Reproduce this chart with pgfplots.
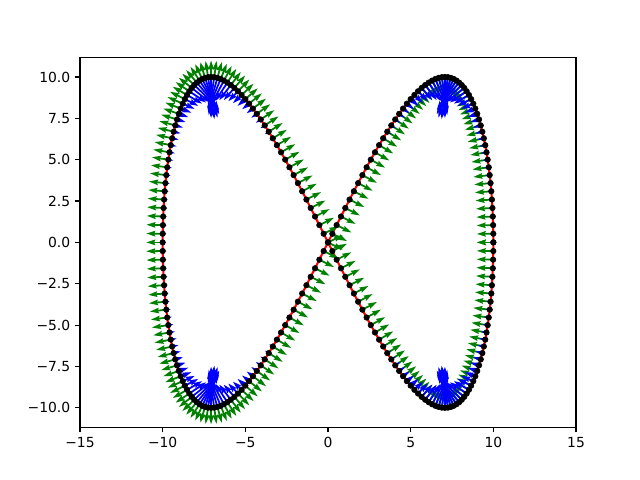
\documentclass[border=0pt]{standalone}
\usepackage{fontspec}
\setmainfont{DejaVu Sans}
\usepackage{pgfplots}
\pgfplotsset{compat=1.18}
\usepackage{pgfplotstable}
\usetikzlibrary{arrows.meta}
\definecolor{mplgreen}{HTML}{008000}
\pgfplotstableread{
x y gx gy bx by s
10.000 0.000 -1.000 0.000 -0.220 0.000 0.41
9.997 0.523 -1.000 -0.013 -0.221 -0.003 0.41
9.986 1.045 -1.000 -0.026 -0.223 -0.006 0.41
9.969 1.564 -0.999 -0.040 -0.227 -0.009 0.42
9.945 2.079 -0.999 -0.053 -0.233 -0.012 0.43
9.914 2.588 -0.998 -0.067 -0.240 -0.016 0.45
9.877 3.090 -0.997 -0.082 -0.250 -0.021 0.46
9.833 3.584 -0.995 -0.097 -0.261 -0.025 0.49
9.781 4.067 -0.994 -0.113 -0.275 -0.031 0.51
9.724 4.540 -0.991 -0.130 -0.291 -0.038 0.54
9.659 5.000 -0.989 -0.148 -0.311 -0.046 0.58
9.588 5.446 -0.986 -0.167 -0.334 -0.057 0.63
9.511 5.878 -0.982 -0.188 -0.361 -0.069 0.68
9.426 6.293 -0.978 -0.210 -0.392 -0.084 0.74
9.336 6.691 -0.972 -0.234 -0.429 -0.104 0.82
9.239 7.071 -0.965 -0.261 -0.473 -0.128 0.91
9.135 7.431 -0.957 -0.291 -0.523 -0.159 1
9.026 7.771 -0.946 -0.324 -0.582 -0.199 1
8.910 8.090 -0.933 -0.360 -0.650 -0.251 1
8.788 8.387 -0.916 -0.401 -0.729 -0.319 1
8.660 8.660 -0.894 -0.447 -0.818 -0.409 1
8.526 8.910 -0.867 -0.499 -0.916 -0.527 1
8.387 9.135 -0.831 -0.556 -1.020 -0.683 1
8.241 9.336 -0.785 -0.620 -1.119 -0.885 1
8.090 9.511 -0.725 -0.689 -1.199 -1.141 1
7.934 9.659 -0.648 -0.762 -1.233 -1.450 1
7.771 9.781 -0.551 -0.834 -1.188 -1.797 1
7.604 9.877 -0.434 -0.901 -1.030 -2.139 1
7.431 9.945 -0.298 -0.955 -0.752 -2.408 1
7.254 9.986 -0.150 -0.989 -0.386 -2.535 1
7.071 10.000 0.000 -1.000 0.000 -2.489 1
6.884 9.986 0.143 -0.990 0.331 -2.291 1
6.691 9.945 0.271 -0.963 0.563 -2.002 1
6.494 9.877 0.381 -0.925 0.694 -1.686 1
6.293 9.781 0.472 -0.882 0.743 -1.388 1
6.088 9.659 0.546 -0.838 0.737 -1.129 1
5.878 9.511 0.607 -0.795 0.700 -0.916 1
5.664 9.336 0.656 -0.755 0.647 -0.744 1
5.446 9.135 0.696 -0.718 0.588 -0.607 1
5.225 8.910 0.729 -0.685 0.530 -0.498 1
5.000 8.660 0.756 -0.655 0.475 -0.412 1
4.772 8.387 0.778 -0.628 0.425 -0.343 1
4.540 8.090 0.797 -0.604 0.379 -0.287 0.88
4.305 7.771 0.813 -0.583 0.338 -0.242 0.77
4.067 7.431 0.826 -0.564 0.301 -0.205 0.67
3.827 7.071 0.837 -0.547 0.268 -0.175 0.59
3.584 6.691 0.847 -0.532 0.238 -0.149 0.52
3.338 6.293 0.855 -0.519 0.211 -0.128 0.46
3.090 5.878 0.862 -0.507 0.187 -0.110 0.40
2.840 5.446 0.868 -0.496 0.165 -0.094 0.35
2.588 5.000 0.873 -0.487 0.145 -0.081 0.31
2.334 4.540 0.878 -0.479 0.127 -0.069 0.27
2.079 4.067 0.882 -0.472 0.109 -0.059 0.23
1.822 3.584 0.885 -0.466 0.094 -0.049 0.20
1.564 3.090 0.887 -0.461 0.079 -0.041 0.16
1.305 2.588 0.890 -0.457 0.064 -0.033 0.13
1.045 2.079 0.891 -0.453 0.051 -0.026 0.11
0.785 1.564 0.893 -0.451 0.038 -0.019 0.08
0.523 1.045 0.894 -0.449 0.025 -0.013 0.05
0.262 0.523 0.894 -0.448 0.012 -0.006 0.03
0.000 0.000 0.894 -0.447 0.001 -0.001 0.02
-0.262 -0.523 0.894 -0.448 -0.012 0.006 0.03
-0.523 -1.045 0.894 -0.449 -0.025 0.013 0.05
-0.785 -1.564 0.893 -0.451 -0.038 0.019 0.08
-1.045 -2.079 0.891 -0.453 -0.051 0.026 0.11
-1.305 -2.588 0.890 -0.457 -0.064 0.033 0.13
-1.564 -3.090 0.887 -0.461 -0.079 0.041 0.16
-1.822 -3.584 0.885 -0.466 -0.094 0.049 0.20
-2.079 -4.067 0.882 -0.472 -0.109 0.059 0.23
-2.334 -4.540 0.878 -0.479 -0.127 0.069 0.27
-2.588 -5.000 0.873 -0.487 -0.145 0.081 0.31
-2.840 -5.446 0.868 -0.496 -0.165 0.094 0.35
-3.090 -5.878 0.862 -0.507 -0.187 0.110 0.40
-3.338 -6.293 0.855 -0.519 -0.211 0.128 0.46
-3.584 -6.691 0.847 -0.532 -0.238 0.149 0.52
-3.827 -7.071 0.837 -0.547 -0.268 0.175 0.59
-4.067 -7.431 0.826 -0.564 -0.301 0.205 0.67
-4.305 -7.771 0.813 -0.583 -0.338 0.242 0.77
-4.540 -8.090 0.797 -0.604 -0.379 0.287 0.88
-4.772 -8.387 0.778 -0.628 -0.425 0.343 1
-5.000 -8.660 0.756 -0.655 -0.475 0.412 1
-5.225 -8.910 0.729 -0.685 -0.530 0.498 1
-5.446 -9.135 0.696 -0.718 -0.588 0.607 1
-5.664 -9.336 0.656 -0.755 -0.647 0.744 1
-5.878 -9.511 0.607 -0.795 -0.700 0.916 1
-6.088 -9.659 0.546 -0.838 -0.737 1.129 1
-6.293 -9.781 0.472 -0.882 -0.743 1.388 1
-6.494 -9.877 0.381 -0.925 -0.694 1.686 1
-6.691 -9.945 0.271 -0.963 -0.563 2.002 1
-6.884 -9.986 0.143 -0.990 -0.331 2.291 1
-7.071 -10.000 0.000 -1.000 0.000 2.489 1
-7.254 -9.986 -0.150 -0.989 0.386 2.535 1
-7.431 -9.945 -0.298 -0.955 0.752 2.408 1
-7.604 -9.877 -0.434 -0.901 1.030 2.139 1
-7.771 -9.781 -0.551 -0.834 1.188 1.797 1
-7.934 -9.659 -0.648 -0.762 1.233 1.450 1
-8.090 -9.511 -0.725 -0.689 1.199 1.141 1
-8.241 -9.336 -0.785 -0.620 1.119 0.885 1
-8.387 -9.135 -0.831 -0.556 1.020 0.683 1
-8.526 -8.910 -0.867 -0.499 0.916 0.527 1
-8.660 -8.660 -0.894 -0.447 0.818 0.409 1
-8.788 -8.387 -0.916 -0.401 0.729 0.319 1
-8.910 -8.090 -0.933 -0.360 0.650 0.251 1
-9.026 -7.771 -0.946 -0.324 0.582 0.199 1
-9.135 -7.431 -0.957 -0.291 0.523 0.159 1
-9.239 -7.071 -0.965 -0.261 0.473 0.128 0.91
-9.336 -6.691 -0.972 -0.234 0.429 0.104 0.82
-9.426 -6.293 -0.978 -0.210 0.392 0.084 0.74
-9.511 -5.878 -0.982 -0.188 0.361 0.069 0.68
-9.588 -5.446 -0.986 -0.167 0.334 0.057 0.63
-9.659 -5.000 -0.989 -0.148 0.311 0.046 0.58
-9.724 -4.540 -0.991 -0.130 0.291 0.038 0.54
-9.781 -4.067 -0.994 -0.113 0.275 0.031 0.51
-9.833 -3.584 -0.995 -0.097 0.261 0.025 0.49
-9.877 -3.090 -0.997 -0.082 0.250 0.021 0.46
-9.914 -2.588 -0.998 -0.067 0.240 0.016 0.45
-9.945 -2.079 -0.999 -0.053 0.233 0.012 0.43
-9.969 -1.564 -0.999 -0.040 0.227 0.009 0.42
-9.986 -1.045 -1.000 -0.026 0.223 0.006 0.41
-9.997 -0.523 -1.000 -0.013 0.221 0.003 0.41
-10.000 0.000 -1.000 0.000 0.220 0.000 0.41
-9.997 0.523 -1.000 0.013 0.221 -0.003 0.41
-9.986 1.045 -1.000 0.026 0.223 -0.006 0.41
-9.969 1.564 -0.999 0.040 0.227 -0.009 0.42
-9.945 2.079 -0.999 0.053 0.233 -0.012 0.43
-9.914 2.588 -0.998 0.067 0.240 -0.016 0.45
-9.877 3.090 -0.997 0.082 0.250 -0.021 0.46
-9.833 3.584 -0.995 0.097 0.261 -0.025 0.49
-9.781 4.067 -0.994 0.113 0.275 -0.031 0.51
-9.724 4.540 -0.991 0.130 0.291 -0.038 0.54
-9.659 5.000 -0.989 0.148 0.311 -0.046 0.58
-9.588 5.446 -0.986 0.167 0.334 -0.057 0.63
-9.511 5.878 -0.982 0.188 0.361 -0.069 0.68
-9.426 6.293 -0.978 0.210 0.392 -0.084 0.74
-9.336 6.691 -0.972 0.234 0.429 -0.104 0.82
-9.239 7.071 -0.965 0.261 0.473 -0.128 0.91
-9.135 7.431 -0.957 0.291 0.523 -0.159 1
-9.026 7.771 -0.946 0.324 0.582 -0.199 1
-8.910 8.090 -0.933 0.360 0.650 -0.251 1
-8.788 8.387 -0.916 0.401 0.729 -0.319 1
-8.660 8.660 -0.894 0.447 0.818 -0.409 1
-8.526 8.910 -0.867 0.499 0.916 -0.527 1
-8.387 9.135 -0.831 0.556 1.020 -0.683 1
-8.241 9.336 -0.785 0.620 1.119 -0.885 1
-8.090 9.511 -0.725 0.689 1.199 -1.141 1
-7.934 9.659 -0.648 0.762 1.233 -1.450 1
-7.771 9.781 -0.551 0.834 1.188 -1.797 1
-7.604 9.877 -0.434 0.901 1.030 -2.139 1
-7.431 9.945 -0.298 0.955 0.752 -2.408 1
-7.254 9.986 -0.150 0.989 0.386 -2.535 1
-7.071 10.000 0.000 1.000 0.000 -2.489 1
-6.884 9.986 0.143 0.990 -0.331 -2.291 1
-6.691 9.945 0.271 0.963 -0.563 -2.002 1
-6.494 9.877 0.381 0.925 -0.694 -1.686 1
-6.293 9.781 0.472 0.882 -0.743 -1.388 1
-6.088 9.659 0.546 0.838 -0.737 -1.129 1
-5.878 9.511 0.607 0.795 -0.700 -0.916 1
-5.664 9.336 0.656 0.755 -0.647 -0.744 1
-5.446 9.135 0.696 0.718 -0.588 -0.607 1
-5.225 8.910 0.729 0.685 -0.530 -0.498 1
-5.000 8.660 0.756 0.655 -0.475 -0.412 1
-4.772 8.387 0.778 0.628 -0.425 -0.343 1
-4.540 8.090 0.797 0.604 -0.379 -0.287 0.88
-4.305 7.771 0.813 0.583 -0.338 -0.242 0.77
-4.067 7.431 0.826 0.564 -0.301 -0.205 0.67
-3.827 7.071 0.837 0.547 -0.268 -0.175 0.59
-3.584 6.691 0.847 0.532 -0.238 -0.149 0.52
-3.338 6.293 0.855 0.519 -0.211 -0.128 0.46
-3.090 5.878 0.862 0.507 -0.187 -0.110 0.40
-2.840 5.446 0.868 0.496 -0.165 -0.094 0.35
-2.588 5.000 0.873 0.487 -0.145 -0.081 0.31
-2.334 4.540 0.878 0.479 -0.127 -0.069 0.27
-2.079 4.067 0.882 0.472 -0.109 -0.059 0.23
-1.822 3.584 0.885 0.466 -0.094 -0.049 0.20
-1.564 3.090 0.887 0.461 -0.079 -0.041 0.16
-1.305 2.588 0.890 0.457 -0.064 -0.033 0.13
-1.045 2.079 0.891 0.453 -0.051 -0.026 0.11
-0.785 1.564 0.893 0.451 -0.038 -0.019 0.08
-0.523 1.045 0.894 0.449 -0.025 -0.013 0.05
-0.262 0.523 0.894 0.448 -0.012 -0.006 0.03
0.000 0.000 0.894 0.447 -0.001 -0.001 0.02
0.262 -0.523 0.894 0.448 0.012 0.006 0.03
0.523 -1.045 0.894 0.449 0.025 0.013 0.05
0.785 -1.564 0.893 0.451 0.038 0.019 0.08
1.045 -2.079 0.891 0.453 0.051 0.026 0.11
1.305 -2.588 0.890 0.457 0.064 0.033 0.13
1.564 -3.090 0.887 0.461 0.079 0.041 0.16
1.822 -3.584 0.885 0.466 0.094 0.049 0.20
2.079 -4.067 0.882 0.472 0.109 0.059 0.23
2.334 -4.540 0.878 0.479 0.127 0.069 0.27
2.588 -5.000 0.873 0.487 0.145 0.081 0.31
2.840 -5.446 0.868 0.496 0.165 0.094 0.35
3.090 -5.878 0.862 0.507 0.187 0.110 0.40
3.338 -6.293 0.855 0.519 0.211 0.128 0.46
3.584 -6.691 0.847 0.532 0.238 0.149 0.52
3.827 -7.071 0.837 0.547 0.268 0.175 0.59
4.067 -7.431 0.826 0.564 0.301 0.205 0.67
4.305 -7.771 0.813 0.583 0.338 0.242 0.77
4.540 -8.090 0.797 0.604 0.379 0.287 0.88
4.772 -8.387 0.778 0.628 0.425 0.343 1
5.000 -8.660 0.756 0.655 0.475 0.412 1
5.225 -8.910 0.729 0.685 0.530 0.498 1
5.446 -9.135 0.696 0.718 0.588 0.607 1
5.664 -9.336 0.656 0.755 0.647 0.744 1
5.878 -9.511 0.607 0.795 0.700 0.916 1
6.088 -9.659 0.546 0.838 0.737 1.129 1
6.293 -9.781 0.472 0.882 0.743 1.388 1
6.494 -9.877 0.381 0.925 0.694 1.686 1
6.691 -9.945 0.271 0.963 0.563 2.002 1
6.884 -9.986 0.143 0.990 0.331 2.291 1
7.071 -10.000 0.000 1.000 0.000 2.489 1
7.254 -9.986 -0.150 0.989 -0.386 2.535 1
7.431 -9.945 -0.298 0.955 -0.752 2.408 1
7.604 -9.877 -0.434 0.901 -1.030 2.139 1
7.771 -9.781 -0.551 0.834 -1.188 1.797 1
7.934 -9.659 -0.648 0.762 -1.233 1.450 1
8.090 -9.511 -0.725 0.689 -1.199 1.141 1
8.241 -9.336 -0.785 0.620 -1.119 0.885 1
8.387 -9.135 -0.831 0.556 -1.020 0.683 1
8.526 -8.910 -0.867 0.499 -0.916 0.527 1
8.660 -8.660 -0.894 0.447 -0.818 0.409 1
8.788 -8.387 -0.916 0.401 -0.729 0.319 1
8.910 -8.090 -0.933 0.360 -0.650 0.251 1
9.026 -7.771 -0.946 0.324 -0.582 0.199 1
9.135 -7.431 -0.957 0.291 -0.523 0.159 1
9.239 -7.071 -0.965 0.261 -0.473 0.128 0.91
9.336 -6.691 -0.972 0.234 -0.429 0.104 0.82
9.426 -6.293 -0.978 0.210 -0.392 0.084 0.74
9.511 -5.878 -0.982 0.188 -0.361 0.069 0.68
9.588 -5.446 -0.986 0.167 -0.334 0.057 0.63
9.659 -5.000 -0.989 0.148 -0.311 0.046 0.58
9.724 -4.540 -0.991 0.130 -0.291 0.038 0.54
9.781 -4.067 -0.994 0.113 -0.275 0.031 0.51
9.833 -3.584 -0.995 0.097 -0.261 0.025 0.49
9.877 -3.090 -0.997 0.082 -0.250 0.021 0.46
9.914 -2.588 -0.998 0.067 -0.240 0.016 0.45
9.945 -2.079 -0.999 0.053 -0.233 0.012 0.43
9.969 -1.564 -0.999 0.040 -0.227 0.009 0.42
9.986 -1.045 -1.000 0.026 -0.223 0.006 0.41
9.997 -0.523 -1.000 0.013 -0.221 0.003 0.41
10.000 0.000 -1.000 0.000 -0.220 0.000 0.41
}\curve
\begin{document}
\begin{tikzpicture}
\useasboundingbox (-57.6pt,-38.02pt) rectangle (403.2pt,307.58pt);
\begin{axis}[
  at={(0pt,0pt)}, anchor=south west,
  scale only axis, width=357.12pt, height=266.11pt,
  xmin=-15, xmax=15, ymin=-11.17, ymax=11.17,
  xtick={-15,-10,-5,0,5,10,15},
  xticklabels={−15,−10,−5,0,5,10,15},
  ytick={-10,-7.5,-5,-2.5,0,2.5,5,7.5,10},
  yticklabels={−10.0,−7.5,−5.0,−2.5,0.0,2.5,5.0,7.5,10.0},
  tick align=outside, xtick pos=lower, ytick pos=left,
  major tick length=3.5pt,
  every tick/.style={black, line width=0.8pt},
  axis line style={line width=0.8pt},
  tick label style={font=\fontsize{10}{12}\selectfont},
  point meta min=0, point meta max=1,
]
\addplot[red, line width=1.5pt, no marks] table[x=x,y=y] {\curve};
\addplot[mplgreen, line width=1.28pt, quiver={u=\thisrow{gx}, v=\thisrow{gy}},
  -{Stealth[length=0pt 5, width=0pt 3, inset=0pt 0.5]}] table[x=x,y=y] {\curve};
\addplot[blue, point meta=\thisrow{s},
  quiver={u=\thisrow{bx}, v=\thisrow{by},
    every arrow/.append style={line width=1.28pt*\pgfplotspointmetatransformed/1000}},
  -{Stealth[length=0pt 5, width=0pt 3, inset=0pt 0.5]}] table[x=x,y=y] {\curve};
\addplot[only marks, mark=*, mark size=2pt, black] table[x=x,y=y] {\curve};
\end{axis}
\end{tikzpicture}
\end{document}
